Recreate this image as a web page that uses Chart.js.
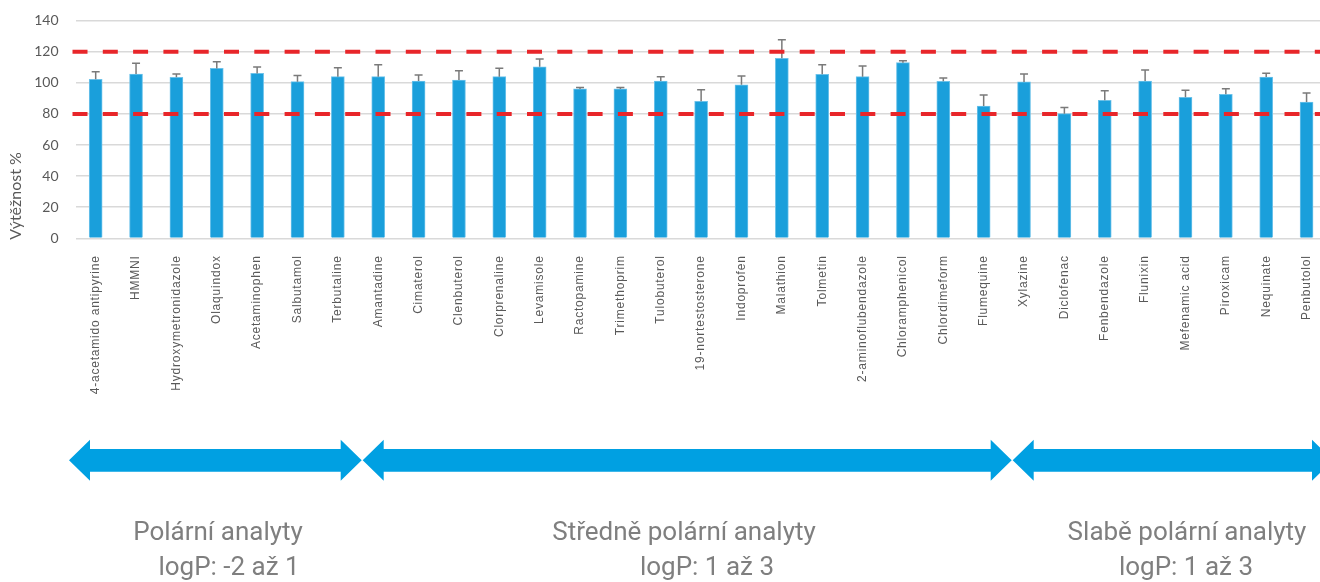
<!DOCTYPE html>
<html>
<head>
<meta charset="utf-8">
<script src="https://cdn.jsdelivr.net/npm/chart.js@4.4.1/dist/chart.umd.min.js"></script>
<style>
  html, body { margin: 0; padding: 0; background: #fff; overflow: hidden; }
  #wrap { position: relative; width: 1320px; height: 582px; overflow: hidden; }
  #myChart { position: absolute; left: 0; top: 0; }
  .grp { position: absolute; transform: translateX(-50%); white-space: pre;
         font-family: Roboto, sans-serif; font-size: 26px; line-height: 26px; color: #7f7f7f; }
</style>
</head>
<body>
<div id="wrap">
  <canvas id="myChart" width="1330" height="582"></canvas>
  <div class="grp" style="left:218px; top:518px">Polární analyty</div>
  <div class="grp" style="left:229px; top:553px">logP: -2 až 1</div>
  <div class="grp" style="left:684px; top:518px">Středně polární analyty</div>
  <div class="grp" style="left:707px; top:553px">logP: 1 až 3</div>
  <div class="grp" style="left:1187px; top:518px">Slabě polární analyty</div>
  <div class="grp" style="left:1186px; top:553px">logP: 1 až 3</div>
</div>
<script>
// analytes in the order of the chart
var analytes = ['4-acetamido antipyrine', 'HMMNI', 'Hydroxymetronidazole', 'Olaquindox', 'Acetaminophen',
    'Salbutamol', 'Terbutaline', 'Amantadine', 'Cimaterol', 'Clenbuterol', 'Clorprenaline', 'Levamisole',
    'Ractopamine', 'Trimethoprim', 'Tulobuterol', '19-nortestosterone', 'Indoprofen', 'Malathion', 'Tolmetin',
    '2-aminoflubendazole', 'Chloramphenicol', 'Chlordimeform', 'Flumequine', 'Xylazine', 'Diclofenac',
    'Fenbendazole', 'Flunixin', 'Mefenamic acid', 'Piroxicam', 'Nequinate', 'Penbutolol'];

// recovery in % and its error (upper bar only)
var recovery = [102.3, 105.7, 103.6, 109.3, 106.1, 100.8, 104.0, 104.0, 101.2, 101.8, 104.0, 110.4,
    96.1, 96.1, 101.2, 88.1, 98.8, 115.8, 105.5, 104.0, 113.0, 101.0, 85.1, 100.6, 80.2,
    88.8, 101.2, 90.7, 92.6, 103.8, 87.7];
var recoveryErr = [4.9, 6.9, 2.1, 4.3, 4.1, 3.9, 5.8, 7.7, 3.9, 6.0, 5.4, 4.9,
    0.9, 0.9, 2.8, 7.5, 5.6, 12.0, 6.2, 6.9, 1.3, 2.1, 7.1, 5.1, 3.9,
    6.2, 7.1, 4.5, 3.6, 2.4, 5.8];

// acceptance limits (red dashed lines)
var limits = [80, 120];

var yMin = 0, yMax = 140, yStep = 20;
var yAxisTitle = 'Výtěžnost %';

// error bars on top of the columns
var errorBars = {
    id: 'errorBars',
    afterDatasetsDraw: function (chart) {
        var ctx = chart.ctx;
        var y = chart.scales.y;
        var meta = chart.getDatasetMeta(0);
        ctx.save();
        ctx.strokeStyle = '#7a7a7a';
        ctx.lineWidth = 1.5;
        meta.data.forEach(function (bar, i) {
            var top = y.getPixelForValue(recovery[i] + recoveryErr[i]);
            var base = y.getPixelForValue(recovery[i]);
            ctx.beginPath();
            ctx.moveTo(bar.x, base);
            ctx.lineTo(bar.x, top);
            ctx.moveTo(bar.x - 4, top);
            ctx.lineTo(bar.x + 4, top);
            ctx.stroke();
        });
        ctx.restore();
    }
};

// red dashed limit lines
var limitLines = {
    id: 'limitLines',
    afterDatasetsDraw: function (chart) {
        var ctx = chart.ctx;
        var y = chart.scales.y;
        ctx.save();
        ctx.strokeStyle = '#e8262a';
        ctx.lineWidth = 4;
        ctx.setLineDash([15, 15.3]);
        limits.forEach(function (v) {
            var py = y.getPixelForValue(v);
            ctx.beginPath();
            ctx.moveTo(chart.chartArea.left - 3, py);
            ctx.lineTo(chart.width, py);
            ctx.stroke();
        });
        ctx.restore();
    }
};

// rotated y title, sits lower than the chart area centre
var yTitle = {
    id: 'yTitle',
    afterDraw: function (chart) {
        var ctx = chart.ctx;
        ctx.save();
        ctx.translate(16, 196);
        ctx.rotate(-Math.PI / 2);
        ctx.font = '16px Lato';
        ctx.fillStyle = '#595959';
        ctx.textAlign = 'center';
        ctx.textBaseline = 'middle';
        ctx.fillText(yAxisTitle, 0, 0);
        ctx.restore();
    }
};

// double headed arrows under the labels
var groupArrows = {
    id: 'groupArrows',
    afterDraw: function (chart) {
        var ctx = chart.ctx;
        var spans = [[69, 361.7], [362.7, 1011.7], [1012.7, 1333]];
        var cy = 460.3, shaft = 11.4, head = 20.5, len = 21;
        ctx.save();
        ctx.fillStyle = '#00a0e2';
        spans.forEach(function (s) {
            var a = s[0], b = s[1];
            ctx.beginPath();
            ctx.moveTo(a, cy);
            ctx.lineTo(a + len, cy - head);
            ctx.lineTo(a + len, cy - shaft);
            ctx.lineTo(b - len, cy - shaft);
            ctx.lineTo(b - len, cy - head);
            ctx.lineTo(b, cy);
            ctx.lineTo(b - len, cy + head);
            ctx.lineTo(b - len, cy + shaft);
            ctx.lineTo(a + len, cy + shaft);
            ctx.lineTo(a + len, cy + head);
            ctx.closePath();
            ctx.fill();
        });
        ctx.restore();
    }
};

// x labels are drawn a bit spaced out in the original
var spacedLabels = {
    id: 'spacedLabels',
    beforeDraw: function (chart) {
        var xs = chart.scales.x;
        if (xs._spaced) return;
        var orig = xs.drawLabels;
        xs.drawLabels = function (area) {
            this.ctx.save();
            this.ctx.letterSpacing = '0.8px';
            orig.call(this, area);
            this.ctx.restore();
        };
        xs._spaced = true;
    }
};

var ctx = document.getElementById('myChart').getContext('2d');
var chart = new Chart(ctx, {
    type: 'bar',
    data: {
        labels: analytes,
        datasets: [{
            label: yAxisTitle,
            data: recovery,
            backgroundColor: '#1a9fdb',
            borderColor: '#6cc2ea',
            borderWidth: 1,
            barThickness: 13
        }]
    },
    options: {
        responsive: false,
        animation: false,
        devicePixelRatio: 1,
        layout: { padding: { top: 20.7, right: 2, left: 0, bottom: 0 } },
        plugins: {
            legend: { display: false },
            tooltip: { enabled: false }
        },
        scales: {
            x: {
                grid: { display: false },
                border: { display: false },
                ticks: {
                    autoSkip: false,
                    minRotation: 90,
                    maxRotation: 90,
                    padding: 9,
                    color: '#595959',
                    font: { family: 'Liberation Sans', size: 12 }
                },
                afterFit: function (scale) { scale.height = 343.7; }
            },
            y: {
                min: yMin,
                max: yMax,
                border: { display: false },
                grid: { color: '#d9d9d9', lineWidth: 1.5, drawTicks: false },
                ticks: {
                    stepSize: yStep,
                    padding: 17,
                    color: '#595959',
                    font: { family: 'Lato', size: 14 }
                },
                afterFit: function (scale) {
                    scale.width = 75.5;
                    // tick padding would otherwise push the plot down
                    scale.paddingTop = 0;
                    scale.paddingBottom = 0;
                }
            }
        }
    },
    plugins: [spacedLabels, errorBars, limitLines, yTitle, groupArrows]
});
</script>
</body>
</html>
